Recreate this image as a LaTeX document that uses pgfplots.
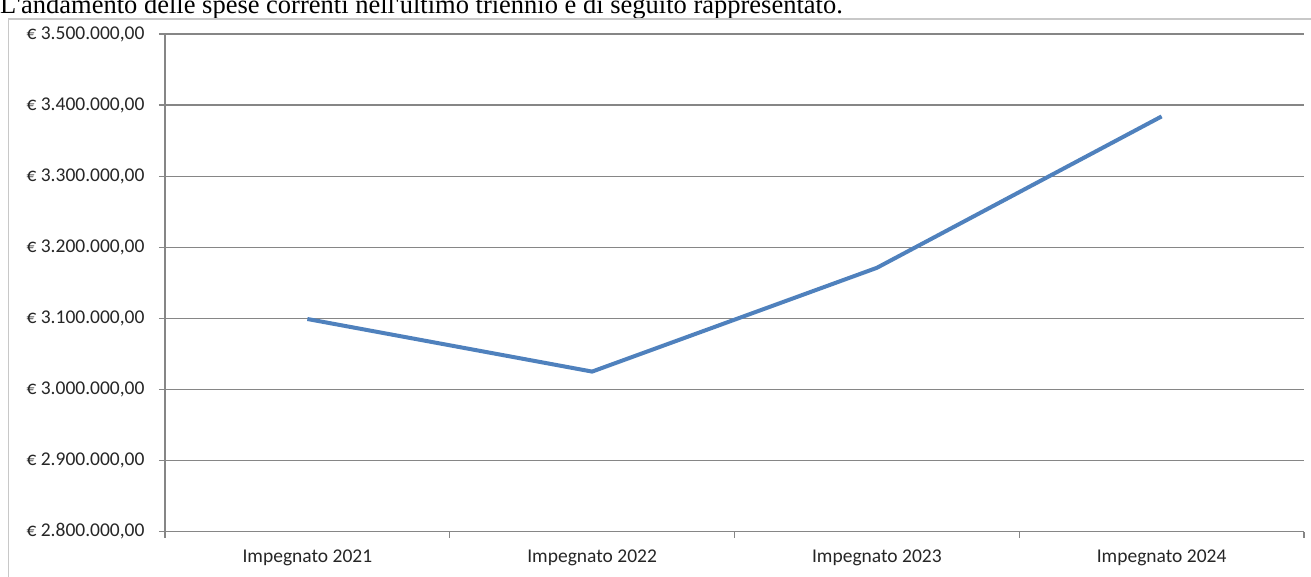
\documentclass[border=0pt]{standalone}
\usepackage{fontspec}
\setmainfont{Carlito}
\newfontfamily\tnr{Liberation Serif}
\usepackage{pgfplots}
\pgfplotsset{compat=1.18}

\definecolor{xlblue}{RGB}{79,129,189}
\definecolor{gridgray}{RGB}{134,134,134}
\definecolor{framegray}{RGB}{200,200,200}

\begin{document}
\begin{tikzpicture}
% image is 1311x577 px, 1 px = 1 bp; axis box lower left sits at (165,531.5) px
\useasboundingbox (-165bp,-45.5bp) rectangle (1146bp,531.5bp);
\fill[white] (-165bp,-45.5bp) rectangle (1146bp,531.5bp);
\node[anchor=base west, inner sep=0pt, font=\tnr\fontsize{26.5bp}{30bp}\selectfont]
  at (-165bp,517.5bp) {L'andamento delle spese correnti nell'ultimo triennio è di seguito rappresentato.};
\draw[framegray, line width=1.3bp] (-156.5bp,-80bp) -- (-156.5bp,512.5bp) -- (1170bp,512.5bp);
\begin{axis}[
    scale only axis,
    width=1139bp, height=497.5bp,
    xmin=-0.5, xmax=3.5,
    ymin=2800000, ymax=3500000,
    axis lines*=left,
    axis line style={gridgray, line width=1.2bp, -},
    xtick={0,1,2,3},
    xticklabels={Impegnato 2021,Impegnato 2022,Impegnato 2023,Impegnato 2024},
    major x tick style={draw=none},
    minor xtick={-0.5,0.5,1.5,2.5,3.5},
    minor x tick style={gridgray, line width=1.2bp},
    minor tick length=6bp,
    ytick={2800000,2900000,3000000,3100000,3200000,3300000,3400000,3500000},
    yticklabels={{€ 2.800.000,00},{€ 2.900.000,00},{€ 3.000.000,00},{€ 3.100.000,00},
                 {€ 3.200.000,00},{€ 3.300.000,00},{€ 3.400.000,00},{€ 3.500.000,00}},
    major y tick style={gridgray, line width=1.2bp},
    major tick length=6bp,
    tick align=outside,
    ymajorgrids=true,
    major grid style={gridgray, line width=1.2bp},
    tick label style={font=\fontsize{19.5bp}{21bp}\selectfont, text=black!85},
    yticklabel style={xshift=-11bp},
    xticklabel style={yshift=-9bp},
    scaled y ticks=false,
]
\addplot[xlblue, line width=4bp, mark=none] coordinates {
    (0,3099000) (1,3025000) (2,3171000) (3,3384000)
};
\end{axis}
\end{tikzpicture}
\end{document}
